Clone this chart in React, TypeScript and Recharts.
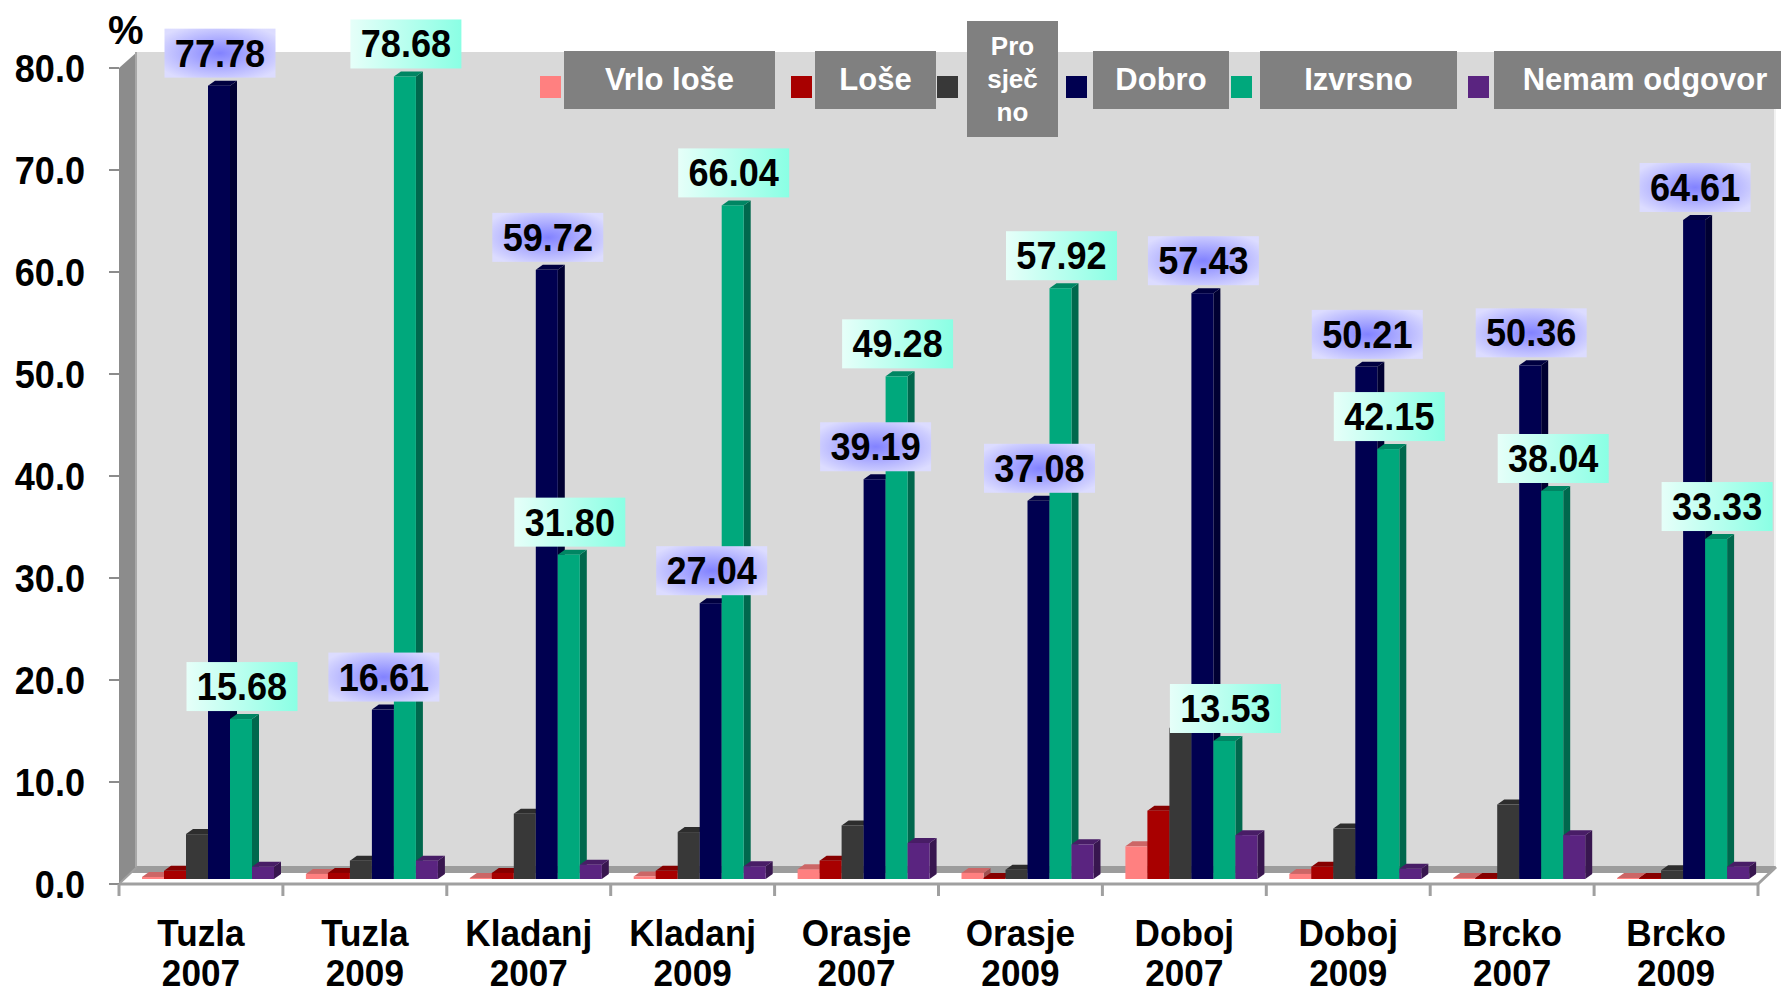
import React from 'react';
import { BarChart, Bar, XAxis, YAxis, LabelList, Legend } from 'recharts';

// ---------- data ----------
const CATEGORIES = [
  'Tuzla 2007', 'Tuzla 2009', 'Kladanj 2007', 'Kladanj 2009', 'Orasje 2007',
  'Orasje 2009', 'Doboj 2007', 'Doboj 2009', 'Brcko 2007', 'Brcko 2009',
];
const VRLO_LOSE = [0.2, 0.5, 0.1, 0.25, 0.95, 0.6, 3.2, 0.5, 0, 0];
const LOSE = [0.8, 0.6, 0.6, 0.8, 1.8, 0.1, 6.7, 1.2, 0, 0];
const PROSJECNO = [4.4, 1.8, 6.4, 4.6, 5.25, 0.9, 14.8, 4.94, 7.3, 0.85];
const DOBRO = [77.78, 16.61, 59.72, 27.04, 39.19, 37.08, 57.43, 50.21, 50.36, 64.61];
const IZVRSNO = [15.68, 78.68, 31.8, 66.04, 49.28, 57.92, 13.53, 42.15, 38.04, 33.33];
const NEMAM = [1.2, 1.8, 1.4, 1.25, 3.53, 3.4, 4.3, 1.0, 4.3, 1.21];
const SERIES_KEYS = ['vrlo', 'lose', 'prosj', 'dobro', 'izvrsno', 'nemam'];
const SERIES_NAMES = ['Vrlo loše', 'Loše', 'Prosječno', 'Dobro', 'Izvrsno', 'Nemam odgovor'];
const LEGEND_LINES = [['Vrlo loše'], ['Loše'], ['Pro', 'sječ', 'no'], ['Dobro'], ['Izvrsno'], ['Nemam odgovor']];
const Y_TICKS = [0, 10, 20, 30, 40, 50, 60, 70, 80];

const data = CATEGORIES.map((name, i) => ({
  name,
  vrlo: VRLO_LOSE[i],
  lose: LOSE[i],
  prosj: PROSJECNO[i],
  dobro: DOBRO[i],
  izvrsno: IZVRSNO[i],
  nemam: NEMAM[i],
}));

// ---------- styles / layout ----------
const COLORS = ['#FF8080', '#A80000', '#383838', '#000050', '#00A87C', '#5A2480'];
const W = 1781;
const H = 996;
const PLOT_LEFT = 119;
const PLOT_RIGHT = 1758;
const PLOT_TOP = 68;
const PLOT_BOTTOM = 884;
const Y_AXIS_W = 100;
const DEPTH_X = 18;
const DEPTH_Y = -17;
const BAR_DX = 6;
const BAR_DY = -5;
const FACE_DX = 7;
const FACE_DY = -5;
const FONT = '"Liberation Sans", Arial, Helvetica, sans-serif';

const LEGEND_SQ_X = [540, 791, 937, 1066, 1231, 1468];
const LEGEND_BOX_X = [564, 815, 967, 1093, 1260, 1494];
const LEGEND_BOX_W = [211, 121, 91, 136, 197, 302];

function shade(hex: string, f: number) {
  const n = parseInt(hex.slice(1), 16);
  const r = Math.round(((n >> 16) & 255) * f);
  const g = Math.round(((n >> 8) & 255) * f);
  const b = Math.round((n & 255) * f);
  return `rgb(${r},${g},${b})`;
}

function Bar3D(props: any) {
  const { x, y, width, height, fill } = props;
  if (x == null || y == null) return null;
  const fx = Number(x) + BAR_DX;
  const fy = Number(y) + BAR_DY;
  const w = Number(width);
  const h = Math.max(Number(height) || 0, 0);
  return (
    <g>
      <polygon
        points={`${fx + w},${fy} ${fx + w + FACE_DX},${fy + FACE_DY} ${fx + w + FACE_DX},${fy + h + FACE_DY} ${fx + w},${fy + h}`}
        fill={shade(fill, 0.62)}
      />
      <polygon
        points={`${fx},${fy} ${fx + FACE_DX},${fy + FACE_DY} ${fx + w + FACE_DX},${fy + FACE_DY} ${fx + w},${fy}`}
        fill={shade(fill, 0.8)}
      />
      <rect x={fx} y={fy} width={w} height={h} fill={fill} />
    </g>
  );
}

function makeLabel(kind: 'dobro' | 'izvrsno') {
  return (p: any) => {
    const x = Number(p.x);
    const y = Number(p.y);
    const w = Number(p.width);
    const cx = x + BAR_DX + w / 2 + 1;
    const bottom = y + BAR_DY - 8;
    const bw = 111;
    const bh = 49;
    const id = `lbl-${kind}-${p.index}`;
    return (
      <g>
        <defs>
          {kind === 'dobro' ? (
            <radialGradient id={id} cx="50%" cy="50%" r="62%">
              <stop offset="0%" stopColor="#8282FF" />
              <stop offset="100%" stopColor="#DCDCFF" />
            </radialGradient>
          ) : (
            <linearGradient id={id} x1="0" y1="0" x2="1" y2="0">
              <stop offset="0%" stopColor="#E6FFF9" />
              <stop offset="100%" stopColor="#8AFFE4" />
            </linearGradient>
          )}
        </defs>
        <rect x={cx - bw / 2} y={bottom - bh} width={bw} height={bh} fill={`url(#${id})`} />
        <g transform={`translate(${cx},${bottom - bh / 2 + 13.5}) scale(0.95,1)`}>
          <text x={0} y={0} textAnchor="middle" fontSize={38} fontWeight="bold" fontFamily={FONT} fill="#000">
            {Number(p.value).toFixed(2)}
          </text>
        </g>
      </g>
    );
  };
}

function YTick(props: any) {
  const { y, payload } = props;
  return (
    <g transform={`translate(${PLOT_LEFT - 34},${Number(y) + 13.5}) scale(0.95,1)`}>
      <text x={0} y={0} textAnchor="end" fontSize={38} fontWeight="bold" fontFamily={FONT} fill="#000">
        {Number(payload.value).toFixed(1)}
      </text>
    </g>
  );
}

function XTick(props: any) {
  const { x, payload } = props;
  const idx = props.index ?? payload.index ?? 0;
  const [city, year] = String(payload.value).split(' ');
  const band = (PLOT_RIGHT - PLOT_LEFT) / CATEGORIES.length;
  const cx = Number(x);
  const left = cx - band / 2;
  return (
    <g>
      <line x1={left} x2={left} y1={PLOT_BOTTOM} y2={PLOT_BOTTOM + 12} stroke="#A0A0A0" strokeWidth={3} />
      {idx === CATEGORIES.length - 1 && (
        <line x1={cx + band / 2} x2={cx + band / 2} y1={PLOT_BOTTOM} y2={PLOT_BOTTOM + 12} stroke="#A0A0A0" strokeWidth={3} />
      )}
      <g transform={`translate(${cx},0) scale(0.95,1)`}>
        <text x={0} y={946} textAnchor="middle" fontSize={37} fontWeight="bold" fontFamily={FONT} fill="#000">
          {city}
        </text>
        <text x={0} y={986} textAnchor="middle" fontSize={37} fontWeight="bold" fontFamily={FONT} fill="#000">
          {year}
        </text>
      </g>
    </g>
  );
}

function LegendContent(props: any) {
  const payload = props.payload || [];
  return (
    <div style={{ position: 'relative', width: W, height: 140, overflow: 'hidden', fontFamily: FONT }}>
      {payload.map((item: any) => {
        const i = SERIES_NAMES.indexOf(String(item.value));
        if (i < 0) return null;
        const tall = LEGEND_LINES[i].length > 1;
        const top = tall ? 21 : 51;
        const bh = tall ? 116 : 58;
        return (
          <React.Fragment key={i}>
            <div
              style={{
                position: 'absolute',
                left: LEGEND_SQ_X[i],
                top: 76,
                width: 21,
                height: 22,
                background: COLORS[i],
              }}
            />
            <div
              style={{
                position: 'absolute',
                left: LEGEND_BOX_X[i],
                top,
                width: LEGEND_BOX_W[i],
                height: bh,
                background: '#808080',
                color: '#fff',
                fontWeight: 'bold',
                display: 'flex',
                flexDirection: 'column',
                alignItems: 'center',
                justifyContent: 'center',
                fontSize: tall ? 26 : 31,
                lineHeight: tall ? '33px' : '36px',
                whiteSpace: 'nowrap',
              }}
            >
              {LEGEND_LINES[i].map((l, k) => (
                <div key={k}>{l}</div>
              ))}
            </div>
          </React.Fragment>
        );
      })}
    </div>
  );
}

function Background() {
  const bx = PLOT_LEFT + DEPTH_X;
  const by = PLOT_BOTTOM + DEPTH_Y;
  const ty = PLOT_TOP - 16;
  const rx = PLOT_RIGHT + DEPTH_X;
  return (
    <svg width={W} height={H} style={{ position: 'absolute', left: 0, top: 0 }}>
      <rect x={bx} y={ty} width={rx - bx} height={by - ty} fill="#D9D9D9" />
      <line x1={rx - 1} x2={rx - 1} y1={ty} y2={by} stroke="#F2F2F2" strokeWidth={2} />
      <polygon
        points={`${PLOT_LEFT},${PLOT_TOP} ${bx},${ty} ${bx},${by} ${PLOT_LEFT},${PLOT_BOTTOM}`}
        fill="#8C8C8C"
      />
      <line x1={bx - 1} x2={bx - 1} y1={ty} y2={by} stroke="#A8A8A8" strokeWidth={2} />
      <polygon
        points={`${PLOT_LEFT},${PLOT_BOTTOM} ${bx},${by} ${rx},${by} ${PLOT_RIGHT},${PLOT_BOTTOM}`}
        fill="#FFFFFF"
      />
      <polygon
        points={`${bx - 6},${by + 6} ${bx},${by - 1} ${rx},${by - 1} ${rx - 6},${by + 6}`}
        fill="#9C9C9C"
      />
      <line x1={PLOT_RIGHT} y1={PLOT_BOTTOM} x2={rx} y2={by} stroke="#A0A0A0" strokeWidth={3} />
      <line x1={PLOT_LEFT} y1={PLOT_BOTTOM} x2={bx} y2={by} stroke="#A0A0A0" strokeWidth={2} />
      <text x={108} y={44} fontSize={40} fontWeight="bold" fontFamily={FONT} fill="#000">
        %
      </text>
    </svg>
  );
}

export default function App() {
  return (
    <div style={{ position: 'relative', width: W, height: H, overflow: 'hidden', background: '#fff' }}>
      <style>{'body{margin:0;}'}</style>
      <Background />
      <div style={{ position: 'absolute', left: 0, top: 0 }}>
        <BarChart
          width={W}
          height={H}
          data={data}
          margin={{ top: PLOT_TOP, right: W - PLOT_RIGHT, bottom: 0, left: PLOT_LEFT - Y_AXIS_W }}
          barCategoryGap={17}
          barGap={0}
        >
          <XAxis
            dataKey="name"
            interval={0}
            height={H - PLOT_BOTTOM}
            axisLine={{ stroke: '#A0A0A0', strokeWidth: 3 }}
            tickLine={false}
            tick={<XTick />}
          />
          <YAxis
            type="number"
            domain={[0, 80]}
            ticks={Y_TICKS}
            interval={0}
            width={Y_AXIS_W}
            axisLine={false}
            tickLine={{ stroke: '#8C8C8C', strokeWidth: 2 }}
            tickSize={10}
            tick={<YTick />}
          />
          <Legend
            layout="vertical"
            align="center"
            verticalAlign="middle"
            content={LegendContent}
            wrapperStyle={{ left: 0, top: 0, width: W, height: 140 }}
          />
          {SERIES_KEYS.map((k, i) => (
            <Bar
              key={k}
              dataKey={k}
              name={SERIES_NAMES[i]}
              fill={COLORS[i]}
              shape={<Bar3D />}
              minPointSize={1}
              isAnimationActive={false}
            >
              {k === 'dobro' && <LabelList dataKey="dobro" content={makeLabel('dobro')} />}
              {k === 'izvrsno' && <LabelList dataKey="izvrsno" content={makeLabel('izvrsno')} />}
            </Bar>
          ))}
        </BarChart>
      </div>
    </div>
  );
}
